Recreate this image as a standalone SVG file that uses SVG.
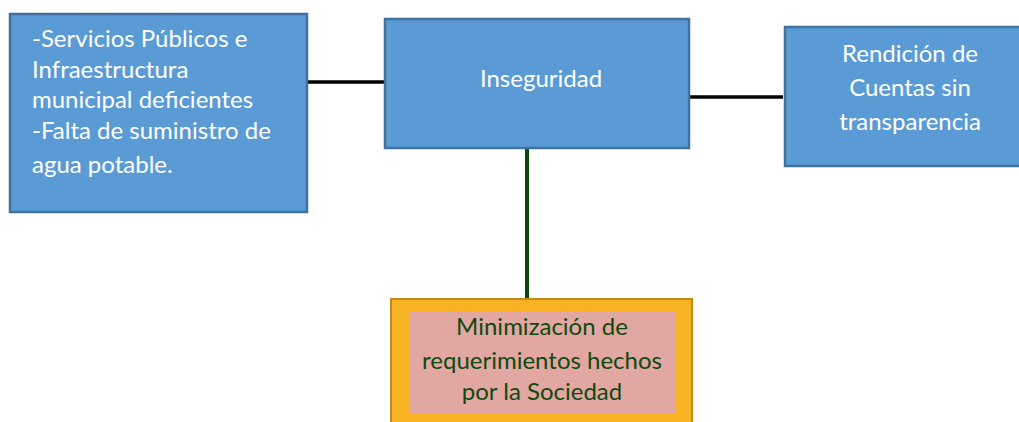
<svg xmlns="http://www.w3.org/2000/svg" width="1019" height="422" viewBox="0 0 1019 422">
<style>
.box{fill:#5b9bd5;stroke:#41719c;stroke-width:2.5}
.wt{font-family:Lato,"Open Sans","Liberation Sans",sans-serif;font-size:24px;fill:#ffffff}
.gt{font-family:Lato,"Open Sans","Liberation Sans",sans-serif;font-size:24px;fill:#0e4a0e}
.c{stroke:#000;stroke-width:3.5;fill:none}
</style>
<rect width="1019" height="422" fill="#ffffff"/>
<g id="connectors">
<line class="c" x1="307" y1="82" x2="385" y2="82"/>
<line class="c" x1="685" y1="97" x2="783" y2="97"/>
<line x1="527" y1="148" x2="527" y2="299" stroke="#0b4a0b" stroke-width="4"/>
</g>
<g id="node-servicios">
<rect class="box" x="10" y="14" width="297" height="198"/>
<text class="wt" x="32"><tspan x="32" y="47">-Servicios Públicos e</tspan><tspan x="32" y="78">Infraestructura</tspan><tspan x="32" y="108">municipal deficientes</tspan><tspan x="32" y="139">-Falta de suministro de</tspan><tspan x="32" y="173">agua potable.</tspan></text>
</g>
<g id="node-inseguridad">
<rect class="box" x="385" y="19" width="304" height="129"/>
<text class="wt" x="541" y="87" text-anchor="middle">Inseguridad</text>
</g>
<g id="node-rendicion">
<rect class="box" x="785" y="27" width="238" height="139"/>
<text class="wt" text-anchor="middle"><tspan x="910" y="62">Rendición de</tspan><tspan x="910" y="96">Cuentas sin</tspan><tspan x="910" y="130">transparencia</tspan></text>
</g>
<g id="node-minimizacion">
<rect x="391" y="299" width="301" height="130" fill="#f7b321" stroke="#c28a1a" stroke-width="2"/>
<rect x="409" y="312" width="266" height="101" fill="#e2a6a3"/>
<text class="gt" text-anchor="middle"><tspan x="542" y="335">Minimización de</tspan><tspan x="542" y="369">requerimientos hechos</tspan><tspan x="542" y="400">por la Sociedad</tspan></text>
</g>
</svg>
